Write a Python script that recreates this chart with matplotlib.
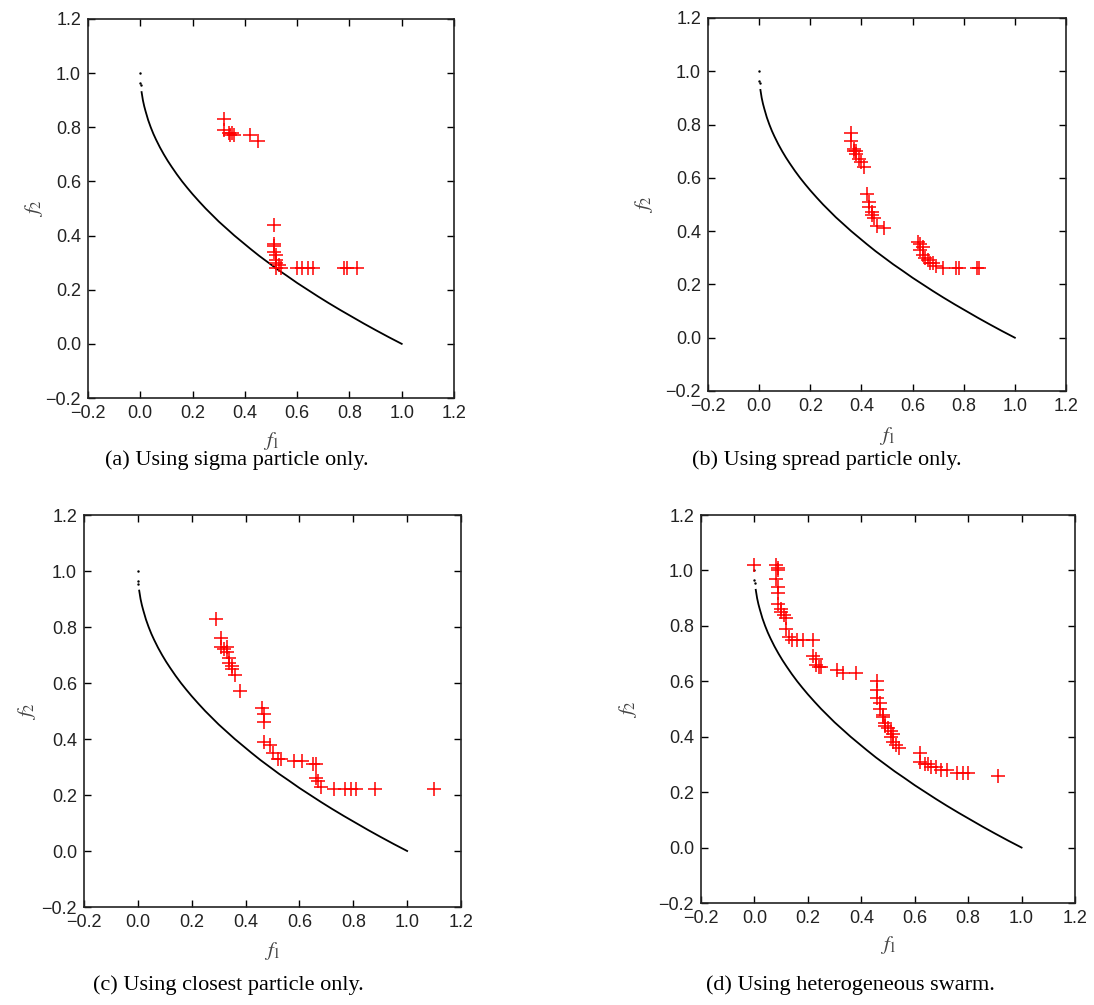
import matplotlib.pyplot as plt
import numpy as np

# true Pareto front
front_f1 = [0.005, 0.01, 0.015, 0.02, 0.03, 0.04, 0.05, 0.06, 0.075, 0.09, 0.105,
            0.12, 0.14, 0.16, 0.18, 0.20, 0.225, 0.25, 0.275, 0.30, 0.33, 0.36,
            0.39, 0.42, 0.455, 0.49, 0.525, 0.56, 0.60, 0.64, 0.68, 0.72, 0.765,
            0.81, 0.855, 0.90, 0.95, 1.00]
front_f2 = [0.93, 0.90, 0.878, 0.86, 0.827, 0.80, 0.776, 0.755, 0.726, 0.70, 0.676,
            0.654, 0.626, 0.60, 0.576, 0.553, 0.526, 0.50, 0.476, 0.452, 0.426, 0.40,
            0.376, 0.352, 0.325, 0.30, 0.275, 0.252, 0.225, 0.20, 0.175, 0.151, 0.125,
            0.10, 0.075, 0.051, 0.025, 0.0]
front_dots_f1 = [0.0, 0.0, 0.002]
front_dots_f2 = [1.0, 0.965, 0.955]

# (a) sigma particle only
a_f1 = [0.32, 0.32, 0.34, 0.345, 0.35, 0.36, 0.42, 0.45,
        0.51, 0.51, 0.51, 0.51, 0.52, 0.52, 0.52, 0.53, 0.52,
        0.54, 0.60, 0.62, 0.64, 0.66, 0.78, 0.79, 0.83]
a_f2 = [0.83, 0.79, 0.78, 0.77, 0.78, 0.77, 0.77, 0.75,
        0.44, 0.37, 0.36, 0.34, 0.33, 0.31, 0.30, 0.29, 0.28,
        0.28, 0.28, 0.28, 0.28, 0.28, 0.28, 0.28, 0.28]

# (b) spread particle only
b_f1 = [0.36, 0.36, 0.37, 0.37, 0.38, 0.38, 0.39, 0.40, 0.41,
        0.42, 0.43, 0.43, 0.44, 0.44, 0.45, 0.46, 0.49,
        0.62, 0.63, 0.64, 0.63, 0.64, 0.65, 0.66, 0.67, 0.68, 0.69,
        0.72, 0.77, 0.78, 0.85, 0.86]
b_f2 = [0.77, 0.74, 0.71, 0.70, 0.70, 0.69, 0.67, 0.66, 0.64,
        0.54, 0.51, 0.49, 0.47, 0.46, 0.45, 0.42, 0.41,
        0.36, 0.35, 0.34, 0.33, 0.31, 0.30, 0.29, 0.28, 0.28, 0.27,
        0.26, 0.26, 0.26, 0.26, 0.26]

# (c) closest particle only
c_f1 = [0.29, 0.31, 0.31, 0.32, 0.33, 0.33, 0.34, 0.34, 0.35, 0.35, 0.36, 0.38,
        0.46, 0.47, 0.47, 0.47, 0.49, 0.50, 0.52, 0.53,
        0.58, 0.61, 0.65, 0.66, 0.66, 0.67, 0.68, 0.73, 0.77, 0.79, 0.81, 0.88, 1.10]
c_f2 = [0.83, 0.76, 0.73, 0.72, 0.73, 0.71, 0.69, 0.67, 0.66, 0.65, 0.63, 0.57,
        0.51, 0.49, 0.46, 0.39, 0.38, 0.35, 0.33, 0.33,
        0.32, 0.32, 0.31, 0.31, 0.26, 0.25, 0.23, 0.22, 0.22, 0.22, 0.22, 0.22, 0.22]

# (d) heterogeneous swarm
d_f1 = [0.00, 0.08, 0.09, 0.09, 0.08, 0.09, 0.09, 0.09, 0.10, 0.10, 0.11, 0.12,
        0.12, 0.13, 0.14, 0.16, 0.18, 0.22, 0.22, 0.23, 0.23, 0.24, 0.25, 0.31,
        0.33, 0.38,
        0.46, 0.46, 0.46, 0.47, 0.47, 0.48, 0.48, 0.49, 0.49, 0.50, 0.51, 0.52,
        0.51, 0.52, 0.53, 0.54,
        0.62, 0.62, 0.64, 0.65, 0.66, 0.68, 0.70, 0.72, 0.76, 0.78, 0.80, 0.91]
d_f2 = [1.02, 1.02, 1.01, 1.00, 0.97, 0.94, 0.92, 0.88, 0.86, 0.85, 0.84, 0.83,
        0.79, 0.76, 0.75, 0.75, 0.75, 0.75, 0.69, 0.68, 0.66, 0.65, 0.65, 0.64,
        0.63, 0.63,
        0.60, 0.57, 0.54, 0.52, 0.50, 0.48, 0.47, 0.45, 0.44, 0.43, 0.42, 0.41,
        0.40, 0.38, 0.37, 0.36,
        0.34, 0.31, 0.30, 0.30, 0.29, 0.29, 0.28, 0.28, 0.27, 0.27, 0.27, 0.26]

# box in pixels, data, caption, caption centre, xlabel y / ylabel x in axes coords
panels = [
    ([88, 19, 454, 398], a_f1, a_f2, '(a) Using sigma particle only.', (237, 460), -0.085, -0.118),
    ([708, 18, 1066, 391], b_f1, b_f2, '(b) Using spread particle only.', (827, 460), -0.091, -0.149),
    ([84, 515, 461, 907], c_f1, c_f2, '(c) Using closest particle only.', (228, 985), -0.084, -0.122),
    ([701, 515, 1075, 903], d_f1, d_f2, '(d) Using heterogeneous swarm.', (850, 985), -0.080, -0.166),
]

W, H = 1094, 1005
fig = plt.figure(figsize=(W / 100, H / 100), dpi=100)
plt.rcParams['mathtext.fontset'] = 'stix'

ticks = np.arange(-0.2, 1.21, 0.2)
labels = ['\u22120.2' if t < -0.1 else f'{t:.1f}' for t in ticks]
for box, xs, ys, cap, cpos, xl_y, yl_x in panels:
    x0, y0, x1, y1 = box
    ax = fig.add_axes([x0 / W, 1 - y1 / H, (x1 - x0) / W, (y1 - y0) / H])
    ax.plot(front_f1, front_f2, color='black', lw=1.3)
    ax.plot(front_dots_f1, front_dots_f2, ls='none', marker='.', ms=1.5, color='black')
    ax.plot(xs, ys, ls='none', marker='+', ms=10, mew=1.1, color='#ff0000')
    ax.set_xlim(-0.2, 1.2)
    ax.set_ylim(-0.2, 1.2)
    ax.set_xticks(ticks)
    ax.set_yticks(ticks)
    ax.set_xticklabels(labels, family='Liberation Sans', fontsize=13, color='#222222')
    ax.set_yticklabels(labels, family='Liberation Sans', fontsize=13, color='#222222')
    ax.tick_params(direction='in', top=True, right=True, length=5, width=1, pad=5)
    for sp in ax.spines.values():
        sp.set_linewidth(1.2)
        sp.set_color('#222222')
    ax.set_xlabel('$f_1$', fontsize=15, color='#444444')
    ax.set_ylabel('$f_2$', fontsize=15, color='#444444')
    ax.xaxis.set_label_coords(0.5, xl_y)
    ax.yaxis.set_label_coords(yl_x, 0.5)
    fig.text(cpos[0] / W, 1 - cpos[1] / H, cap, ha='center', va='center',
             family='Liberation Serif', fontsize=16)

fig.savefig('out.png', dpi=100)
